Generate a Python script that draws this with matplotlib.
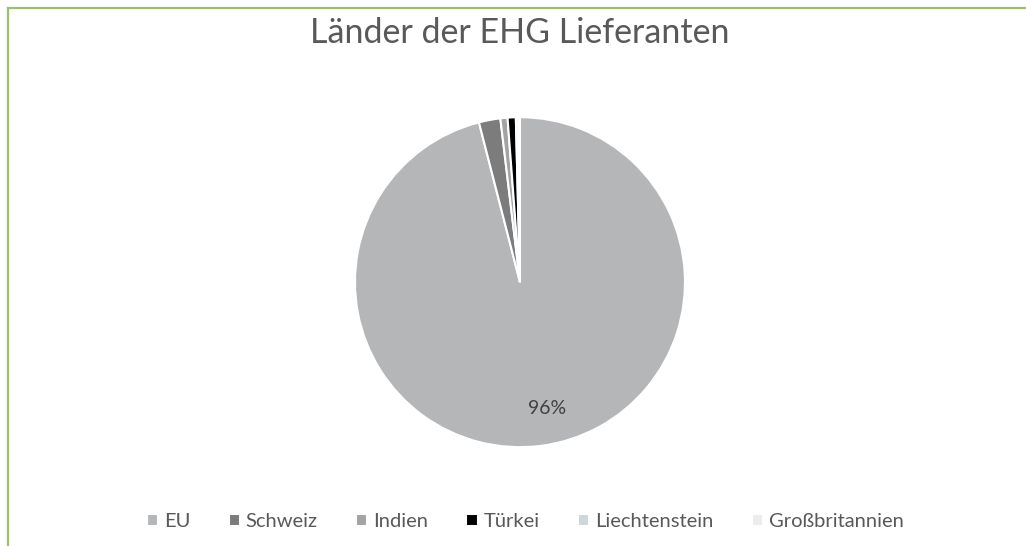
"""
Länder der EHG Lieferanten - Kreisdiagramm
"""

import matplotlib
matplotlib.use('Agg')
import matplotlib.pyplot as plt
from matplotlib.lines import Line2D

# Daten
laender = ['EU', 'Schweiz', 'Indien', 'Türkei', 'Liechtenstein', 'Großbritannien']
anteile = [96.0, 2.1, 0.7, 0.8, 0.25, 0.15]
farben = ['#b5b6b8', '#7c7c7c', '#a3a3a3', '#000000', '#cfd5dd', '#ececec']

plt.rcParams['font.family'] = ['Lato', 'DejaVu Sans']

fig = plt.figure(figsize=(10.26, 5.46), dpi=100)
fig.patch.set_facecolor('white')

# grüner Rahmen oben und links
fig.add_artist(Line2D([8 / 1026, 1], [1 - 8 / 546, 1 - 8 / 546],
                      transform=fig.transFigure, color='#9dbf6c', linewidth=1.6))
fig.add_artist(Line2D([8 / 1026, 8 / 1026], [0, 1 - 8 / 546],
                      transform=fig.transFigure, color='#9dbf6c', linewidth=1.6))

ax = fig.add_axes([0.346, 0.181, 0.3216, 0.6044])

def fmt(p):
    return f'{p:.0f}%' if p > 50 else ''

wedges, texts, autotexts = ax.pie(
    anteile, colors=farben, startangle=90, counterclock=False,
    autopct=fmt, pctdistance=0.77,
    wedgeprops=dict(edgecolor='white', linewidth=1.5),
    textprops=dict(color='#404040', fontsize=14))
ax.set_aspect('equal')
ax.set_xlim(-1, 1)
ax.set_ylim(-1, 1)
# Beschriftung etwas nach rechts wie im Original
for t in autotexts:
    x, y = t.get_position()
    t.set_position((x + 0.07, y))

fig.text(0.507, 0.94, 'Länder der EHG Lieferanten', ha='center', va='center',
         fontsize=24.5, color='#595959')

fig.legend(wedges, laender, loc='center', bbox_to_anchor=(0.512, 0.045),
           ncol=6, frameon=False, fontsize=14.5, labelcolor='#595959',
           handlelength=0.55, handleheight=0.55, handletextpad=0.3,
           columnspacing=1.9)

plt.savefig('out.png', dpi=100)
plt.close()
